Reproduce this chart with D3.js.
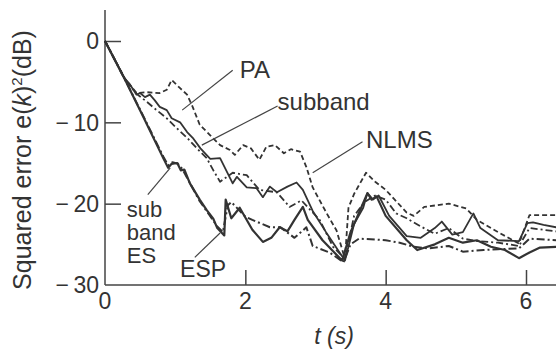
<!DOCTYPE html>
<html>
<head>
<meta charset="utf-8">
<script src="https://cdn.jsdelivr.net/npm/d3@7"></script>
<style>
  html, body { margin: 0; padding: 0; background: #fff; }
  svg { display: block; font-family: "Liberation Sans", Arial, sans-serif; }
</style>
</head>
<body>
<svg id="chart"></svg>
<script>
// [t (s), squared error (dB)]
const seriesPA = [
  [0, 0], [0.28, -4.6], [0.45, -6.4], [0.6, -6.3], [0.78, -6.4], [0.88, -6.0], [0.95, -4.8],
  [1.07, -5.8], [1.17, -6.6], [1.24, -7.9], [1.35, -10.3], [1.5, -11.6], [1.64, -12.8],
  [1.78, -13.4], [1.85, -14.0], [1.97, -12.8], [2.08, -13.2], [2.2, -14.6], [2.3, -13.0],
  [2.42, -12.8], [2.55, -13.8], [2.65, -13.3], [2.78, -13.6], [2.87, -15.5], [2.96, -18.0],
  [3.16, -21.2], [3.3, -23.3], [3.42, -26.8], [3.47, -20.5], [3.55, -18.8], [3.72, -16.2],
  [3.85, -17.3], [4.0, -18.3], [4.3, -21.1], [4.4, -21.5], [4.55, -20.4], [4.9, -20.0],
  [5.15, -20.6], [5.3, -22.0], [5.6, -23.5], [5.9, -24.9], [6.05, -21.4], [6.43, -21.4]
];
const seriesNLMS = [
  [0, 0], [0.28, -4.6], [0.45, -6.5], [0.6, -7.5], [0.68, -8.1], [0.88, -9.5], [1.02, -10.7],
  [1.17, -11.9], [1.31, -13.2], [1.45, -14.4], [1.55, -16.0], [1.64, -17.3], [1.82, -16.2],
  [2.02, -16.5], [2.2, -18.3], [2.45, -18.6], [2.63, -20.4], [2.8, -19.6], [3.06, -22.0],
  [3.25, -25.3], [3.42, -26.8], [3.55, -21.5], [3.7, -19.8], [3.85, -19.0], [4.0, -19.5],
  [4.15, -21.2], [4.3, -21.8], [4.5, -22.8], [4.7, -23.7], [4.9, -23.0], [5.1, -24.3],
  [5.3, -24.6], [5.6, -24.8], [5.9, -25.2], [6.05, -23.0], [6.43, -23.4]
];
const seriesSubband = [
  [0, 0], [0.28, -4.6], [0.36, -5.4], [0.45, -6.6], [0.5, -6.4], [0.57, -6.9], [0.64, -6.6],
  [0.71, -7.3], [0.78, -8.1], [0.88, -8.5], [0.95, -9.5], [1.07, -10.0], [1.17, -11.2],
  [1.25, -11.9], [1.36, -13.2], [1.5, -14.5], [1.64, -14.4], [1.82, -17.5], [1.88, -16.7],
  [2.02, -18.0], [2.16, -18.1], [2.25, -19.2], [2.35, -17.9], [2.45, -18.6], [2.6, -17.9],
  [2.73, -17.4], [2.82, -18.3], [2.96, -20.9], [3.15, -23.5], [3.42, -27.0], [3.55, -22.5],
  [3.68, -20.5], [3.74, -18.7], [3.82, -19.5], [3.9, -19.0], [4.05, -21.5], [4.3, -24.0],
  [4.5, -24.2], [4.7, -23.0], [4.8, -22.2], [4.95, -23.8], [5.1, -23.5], [5.25, -21.2],
  [5.35, -23.0], [5.6, -24.5], [5.9, -24.6], [6.02, -22.4], [6.1, -22.3], [6.25, -22.6],
  [6.43, -22.9]
];
const seriesES = [
  [0, 0], [0.3, -5.0], [0.55, -9.4], [0.83, -14.4], [0.9, -15.6], [0.95, -15.1], [1.03, -15.0],
  [1.08, -15.9], [1.13, -15.8], [1.21, -17.5], [1.35, -19.5], [1.45, -20.8], [1.54, -21.8],
  [1.6, -23.0], [1.7, -23.9], [1.72, -19.5], [1.8, -21.8], [1.92, -20.5], [2.1, -23.2],
  [2.25, -24.7], [2.37, -24.2], [2.49, -22.9], [2.6, -23.4], [2.7, -22.0], [2.82, -20.4],
  [2.89, -22.0], [3.1, -24.5], [3.38, -27.0], [3.5, -23.5], [3.6, -21.5], [3.74, -18.7],
  [3.8, -19.5], [3.87, -19.1], [4.0, -21.5], [4.3, -24.5], [4.45, -25.7], [4.7, -25.0],
  [4.9, -24.2], [5.1, -24.8], [5.3, -24.5], [5.5, -25.3], [5.7, -25.7], [5.9, -26.7],
  [6.05, -26.0], [6.2, -25.4], [6.43, -25.3]
];
const seriesESP = [
  [0, 0], [0.3, -5.0], [0.55, -9.3], [0.83, -14.2], [0.9, -15.3], [0.96, -14.9], [1.04, -15.1],
  [1.1, -15.7], [1.2, -17.3], [1.35, -19.7], [1.48, -21.3], [1.6, -22.8], [1.68, -23.5],
  [1.75, -20.2], [1.8, -19.8], [2.0, -21.6], [2.1, -22.0], [2.35, -22.9], [2.5, -22.9],
  [2.7, -24.2], [2.87, -22.9], [2.96, -25.2], [3.2, -26.0], [3.4, -27.2], [3.5, -25.0],
  [3.62, -24.3], [3.85, -24.4], [4.0, -24.5], [4.2, -24.8], [4.4, -25.3], [4.6, -25.5],
  [4.9, -25.2], [5.1, -25.9], [5.4, -25.7], [5.6, -25.6], [5.9, -25.5], [6.05, -24.3],
  [6.43, -24.5]
];

const xTicks = [0, 2, 4, 6];
const yTicks = [0, -10, -20, -30];

// label text, where the text sits, and leader line [from, to] in data units
const labels = [
  { lines: ['PA'], at: [1.92, -4.55], size: 24, leader: [[1.82, -3.6], [1.1, -8.5]] },
  { lines: ['subband'], at: [2.46, -8.5], size: 24, leader: [[2.46, -8.0], [1.38, -12.8]] },
  { lines: ['NLMS'], at: [3.72, -13.15], size: 24, leader: [[3.67, -12.4], [2.96, -16.2]] },
  { lines: ['sub', 'band', 'ES'], at: [0.31, -21.6], size: 22, leader: [[0.61, -18.9], [0.93, -15.6]] },
  { lines: ['ESP'], at: [1.07, -29.0], size: 23, leader: [[1.28, -26.6], [1.64, -23.6]] }
];

const width = 556, height = 349;
const marginLeft = 105, axisBottom = 285;

const svg = d3.select('#chart').attr('width', width).attr('height', height)
  .attr('viewBox', [0, 0, width, height]);

const x = d3.scaleLinear([0, 6], [marginLeft, 526]);
const y = d3.scaleLinear([0, -30], [41, axisBottom]);

const ink = '#333';

/**
 * axes
 */
svg.append('line')
  .attr('x1', x(0)).attr('x2', x(0))
  .attr('y1', y(3.8)).attr('y2', y(-30))
  .attr('stroke', '#444').attr('stroke-width', 1.5);
svg.append('line')
  .attr('x1', x(0)).attr('x2', width)
  .attr('y1', y(-30)).attr('y2', y(-30))
  .attr('stroke', '#444').attr('stroke-width', 1.5);

const yAxis = d3.axisRight(y).tickValues(yTicks.filter((v) => v > -30))
  .tickSize(16).tickFormat('');
svg.append('g')
  .attr('transform', `translate(${x(0)},0)`)
  .call(yAxis)
  .call((g) => g.select('.domain').remove())
  .call((g) => g.selectAll('.tick line').attr('stroke', '#444').attr('stroke-width', 1.5));

svg.append('g')
  .selectAll('text')
  .data(yTicks)
  .join('text')
  .attr('x', x(0) - 6)
  .attr('y', (d) => y(d))
  .attr('dy', '0.36em')
  .attr('text-anchor', 'end')
  .attr('font-size', 23)
  .attr('fill', ink)
  .text((d) => (d < 0 ? '\u2212\u2009' + Math.abs(d) : String(d)));

const xAxis = d3.axisTop(x).tickValues(xTicks.filter((v) => v > 0))
  .tickSize(15).tickFormat('');
svg.append('g')
  .attr('transform', `translate(0,${y(-30)})`)
  .call(xAxis)
  .call((g) => g.select('.domain').remove())
  .call((g) => g.selectAll('.tick line').attr('stroke', '#444').attr('stroke-width', 1.5));

svg.append('g')
  .selectAll('text')
  .data(xTicks)
  .join('text')
  .attr('x', (d) => x(d))
  .attr('y', y(-30) + 24)
  .attr('text-anchor', 'middle')
  .attr('font-size', 23)
  .attr('fill', ink)
  .text((d) => d);

// axis titles
svg.append('text')
  .attr('transform', `translate(31,160) rotate(-90)`)
  .attr('text-anchor', 'middle')
  .attr('font-size', 25)
  .attr('fill', ink)
  .call((t) => {
    t.append('tspan').text('Squared error e(');
    t.append('tspan').attr('font-style', 'italic').text('k');
    t.append('tspan').text(')');
    t.append('tspan').attr('font-size', 15).attr('dy', -9).text('2');
    t.append('tspan').attr('dy', 9).text('(dB)');
  });

svg.append('text')
  .attr('x', 334)
  .attr('y', 344)
  .attr('text-anchor', 'middle')
  .attr('font-size', 23)
  .attr('font-style', 'italic')
  .attr('fill', ink)
  .text('t (s)');

/**
 * curves
 */
const curves = [
  { data: seriesPA, dash: '5,3', w: 1.8 },
  { data: seriesNLMS, dash: '7,3,2,3', w: 1.8 },
  { data: seriesSubband, dash: null, w: 1.8 },
  { data: seriesESP, dash: '8,3,2,3', w: 2 },
  { data: seriesES, dash: null, w: 2.2 }
];
const line = d3.line().x((d) => x(d[0])).y((d) => y(d[1])).curve(d3.curveLinear);
svg.append('g')
  .selectAll('path')
  .data(curves)
  .join('path')
  .attr('fill', 'none')
  .attr('stroke', ink)
  .attr('stroke-width', (c) => c.w)
  .attr('stroke-dasharray', (c) => c.dash)
  .attr('stroke-linejoin', 'round')
  .attr('d', (c) => line(c.data));

/**
 * labels and leaders
 */
const ann = svg.append('g');
ann.selectAll('line')
  .data(labels)
  .join('line')
  .attr('x1', (d) => x(d.leader[0][0]))
  .attr('y1', (d) => y(d.leader[0][1]))
  .attr('x2', (d) => x(d.leader[1][0]))
  .attr('y2', (d) => y(d.leader[1][1]))
  .attr('stroke', '#444')
  .attr('stroke-width', 1.2);
ann.selectAll('text')
  .data(labels)
  .join('text')
  .attr('x', (d) => x(d.at[0]))
  .attr('y', (d) => y(d.at[1]))
  .attr('font-size', (d) => d.size)
  .attr('fill', ink)
  .call((t) => t.selectAll('tspan')
    .data((d) => d.lines.map((s) => ({ s, x: x(d.at[0]) })))
    .join('tspan')
    .attr('x', (d) => d.x)
    .attr('dy', (_, i) => (i ? 23 : 0))
    .text((d) => d.s));
</script>
</body>
</html>
